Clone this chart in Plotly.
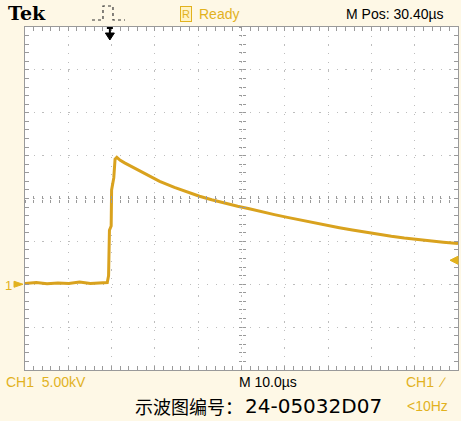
import plotly.graph_objects as go

# CH1 trace: time (µs, trigger at 0) and voltage (kV)
t_us = [-19.6, -17, -14.5, -12, -9.5, -7, -4.5, -2, -0.6, -0.3, -0.1, 0.3, 0.4, 0.9, 1.2, 1.6,
        2.4, 3.4, 4.5, 5.7, 7.5, 9.2, 11.5, 14.9, 17.5, 20.7, 23.5, 26.5, 29.5, 32.2, 35, 38,
        41, 43.8, 47, 50, 53, 56, 59, 62.3, 65, 68, 71, 74, 77, 80.4]
v_kv = [0.1, 0.2, 0.05, 0.15, 0.1, 0.25, 0.1, 0.15, 0.2, 1.0, 6.3, 6.8, 11.0, 12.4, 14.6, 14.8,
        14.45, 14.15, 13.85, 13.5, 13.0, 12.55, 12.0, 11.3, 10.8, 10.26, 9.85, 9.45, 9.1, 8.8, 8.45, 8.12,
        7.8, 7.5, 7.18, 6.88, 6.6, 6.33, 6.07, 5.8, 5.6, 5.4, 5.22, 5.05, 4.9, 4.75]

M_POS = 30.4      # µs at screen centre
T_DIV = 10.0      # µs / div
V_DIV = 5.0       # kV / div
GND_DIV = -2      # ground marker, divisions from centre
TRIG_LEVEL = 2.8  # kV

W, H = 461, 421
L, R, T, B = 25, 3, 27, 51
PW, PH = W - L - R, H - T - B

TRACE = "#D9A21E"
GOLD = "#E2B21E"
BG = "#FEF8E6"
GRID = "#BDBDBD"
EDGE = "#9A9A9A"


def px(x):
    return (x - L) / PW


def py(y):
    return (H - B - y) / PH


x_rng = [M_POS - 5 * T_DIV, M_POS + 5 * T_DIV]
y_centre = -GND_DIV * V_DIV
y_rng = [y_centre - 4 * V_DIV, y_centre + 4 * V_DIV]

fig = go.Figure()
fig.add_trace(go.Scatter(x=t_us, y=v_kv, mode="lines", line=dict(color=TRACE, width=3),
                         hoverinfo="skip", showlegend=False))
# empty traces so the centre-crosshair axes get drawn
for xa, ya in [("x2", "y"), ("x3", "y"), ("x", "y2"), ("x", "y3")]:
    fig.add_trace(go.Scatter(x=[], y=[], xaxis=xa, yaxis=ya, showlegend=False))

dot = "1.2px,7.46px"
common = dict(showticklabels=False, zeroline=False)
fig.update_layout(
    width=W, height=H, margin=dict(l=L, r=R, t=T, b=B),
    paper_bgcolor=BG, plot_bgcolor="white",
    xaxis=dict(range=x_rng, tick0=M_POS, dtick=T_DIV, showgrid=True, gridcolor=GRID, griddash=dot,
               showline=True, linecolor=EDGE, linewidth=1, mirror="allticks",
               ticks="inside", ticklen=4, tickcolor=EDGE,
               minor=dict(dtick=T_DIV / 5, tick0=M_POS, ticks="inside", ticklen=4, tickcolor=EDGE),
               **common),
    yaxis=dict(range=y_rng, tick0=y_centre, dtick=V_DIV, showgrid=True, gridcolor=GRID, griddash=dot,
               showline=True, linecolor=EDGE, linewidth=1, mirror="allticks",
               ticks="inside", ticklen=4, tickcolor=EDGE,
               minor=dict(dtick=V_DIV / 5, tick0=y_centre, ticks="inside", ticklen=4, tickcolor=EDGE),
               **common),
)
for name, side in [("xaxis2", "inside"), ("xaxis3", "outside")]:
    fig.update_layout({name: dict(overlaying="x", matches="x", anchor="free", position=0.5,
                                  showgrid=False, showline=False, ticks=side, ticklen=3, tickcolor=EDGE,
                                  tick0=M_POS, dtick=T_DIV,
                                  minor=dict(dtick=T_DIV / 5, tick0=M_POS, ticks=side, ticklen=3,
                                             tickcolor=EDGE),
                                  **common)})
for name, side in [("yaxis2", "inside"), ("yaxis3", "outside")]:
    fig.update_layout({name: dict(overlaying="y", matches="y", anchor="free", position=0.5,
                                  showgrid=False, showline=False, ticks=side, ticklen=3, tickcolor=EDGE,
                                  tick0=y_centre, dtick=V_DIV,
                                  minor=dict(dtick=V_DIV / 5, tick0=y_centre, ticks=side, ticklen=3,
                                             tickcolor=EDGE),
                                  **common)})

sans = "Liberation Sans, Arial, sans-serif"


def label(text, x, y, color="black", size=14, family=sans, anchor="left", **kw):
    fig.add_annotation(text=text, x=px(x), y=py(y), xref="paper", yref="paper",
                       xanchor=anchor, yanchor="middle", showarrow=False,
                       font=dict(color=color, size=size, family=family), **kw)


label("<b>Tek</b>", 6, 13, size=19, family="DejaVu Serif, Liberation Serif, serif")
label("R", 180, 14, color=GOLD, size=11, bordercolor=GOLD, borderwidth=1, borderpad=1, bgcolor="#FFF3C4")
label("Ready", 197, 14, color=GOLD, size=14)
label("M Pos: 30.40µs", 344, 14, size=14)
label("CH1  5.00kV", 4, 382, color=GOLD, size=14)
label("M 10.0µs", 237, 382, size=14)
label("CH1  ∕", 404, 382, color=GOLD, size=14)
label("<10Hz", 405, 406, color=GOLD, size=14)
label("示波图编号：", 133, 406, size=18, family="Noto Sans CJK SC")
label("24-05032D07", 243, 406, size=20, family="DejaVu Sans, sans-serif")

# trigger-type pulse icon
pulse = [(92, 20), (103, 20), (103, 6), (113, 6), (113, 20), (125, 20)]
path = "M " + " L ".join(f"{px(a):.4f},{py(b):.4f}" for a, b in pulse)
fig.add_shape(type="path", path=path, xref="paper", yref="paper",
              line=dict(color="#333333", width=1.2, dash="dot"))

# trigger position arrow at t = 0
us_px = T_DIV / (PW / 10)
fig.add_shape(type="path", xref="x", yref="paper",
              path=f"M {-3*us_px},{py(28)} L {3*us_px},{py(28)} M 0,{py(28)} L 0,{py(34)}",
              line=dict(color="black", width=2))
fig.add_shape(type="path", xref="x", yref="paper",
              path=f"M {-4.5*us_px},{py(33)} L {4.5*us_px},{py(33)} L 0,{py(40)} Z",
              fillcolor="black", line=dict(color="black", width=1))

# ground marker "1 ►"
kv_px = V_DIV / (PH / 8)
label("1", 3, 285, color=GOLD, size=13)
fig.add_shape(type="path", xref="paper", yref="y",
              path=f"M {px(14)},{3*kv_px} L {px(23)},0 L {px(14)},{-3*kv_px} Z",
              fillcolor=GOLD, line=dict(color=GOLD, width=1))

# trigger level marker ◄
fig.add_shape(type="path", xref="paper", yref="y",
              path=f"M {px(458)},{TRIG_LEVEL + 4*kv_px} L {px(450)},{TRIG_LEVEL} "
                   f"L {px(458)},{TRIG_LEVEL - 4*kv_px} Z",
              fillcolor=GOLD, line=dict(color=GOLD, width=1))

fig.write_html("out.html", config={"displayModeBar": False},
               post_script="document.body.style.margin='0';")
